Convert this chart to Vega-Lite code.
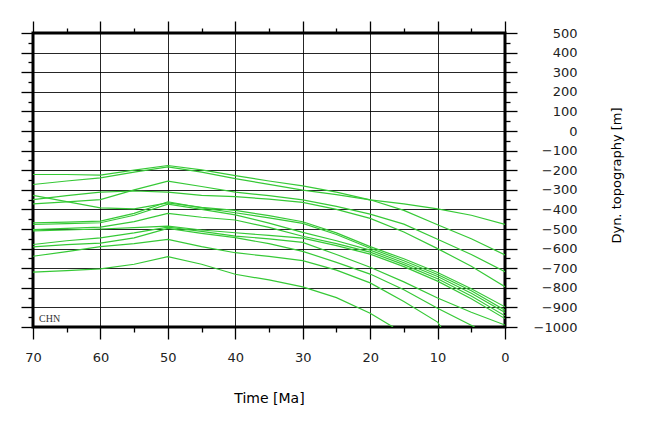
{
  "$schema": "https://vega.github.io/schema/vega-lite/v6.json",
  "width": 472,
  "height": 294,
  "autosize": {"type": "none"},
  "padding": {"left": 33, "top": 33, "right": 140, "bottom": 103},
  "background": "white",
  "config": {
    "view": {"stroke": "#000", "strokeWidth": 3},
    "axis": {"domain": false, "tickColor": "#000", "tickWidth": 1.3, "labelFont": "DejaVu Sans", "labelFontSize": 13, "labelColor": "#222", "titleFont": "DejaVu Sans", "titleFontWeight": "normal", "titleColor": "#000", "labelOverlap": false, "labelFlush": false, "labelBound": false}
  },
  "datasets": {
    "curves": [
      {"id":"L1","t":70,"v":-222},{"id":"L1","t":65,"v":-222},{"id":"L1","t":60,"v":-225},{"id":"L1","t":55,"v":-200},{"id":"L1","t":50,"v":-176},{"id":"L1","t":45,"v":-198},{"id":"L1","t":40,"v":-228},{"id":"L1","t":35,"v":-255},{"id":"L1","t":30,"v":-280},{"id":"L1","t":25,"v":-312},{"id":"L1","t":20,"v":-351},{"id":"L1","t":15,"v":-405},{"id":"L1","t":10,"v":-478},{"id":"L1","t":5,"v":-550},{"id":"L1","t":0,"v":-632},
      {"id":"L2","t":70,"v":-273},{"id":"L2","t":65,"v":-255},{"id":"L2","t":60,"v":-239},{"id":"L2","t":55,"v":-210},{"id":"L2","t":50,"v":-183},{"id":"L2","t":45,"v":-210},{"id":"L2","t":40,"v":-243},{"id":"L2","t":35,"v":-272},{"id":"L2","t":30,"v":-302},{"id":"L2","t":25,"v":-325},{"id":"L2","t":20,"v":-351},{"id":"L2","t":15,"v":-372},{"id":"L2","t":10,"v":-397},{"id":"L2","t":5,"v":-430},{"id":"L2","t":0,"v":-476},
      {"id":"L3","t":70,"v":-372},{"id":"L3","t":65,"v":-362},{"id":"L3","t":60,"v":-350},{"id":"L3","t":55,"v":-300},{"id":"L3","t":50,"v":-256},{"id":"L3","t":45,"v":-283},{"id":"L3","t":40,"v":-312},{"id":"L3","t":35,"v":-330},{"id":"L3","t":30,"v":-351},{"id":"L3","t":25,"v":-385},{"id":"L3","t":20,"v":-424},{"id":"L3","t":15,"v":-475},{"id":"L3","t":10,"v":-552},{"id":"L3","t":5,"v":-630},{"id":"L3","t":0,"v":-718},
      {"id":"L4","t":70,"v":-350},{"id":"L4","t":65,"v":-330},{"id":"L4","t":60,"v":-312},{"id":"L4","t":55,"v":-306},{"id":"L4","t":50,"v":-312},{"id":"L4","t":45,"v":-328},{"id":"L4","t":40,"v":-335},{"id":"L4","t":35,"v":-348},{"id":"L4","t":30,"v":-364},{"id":"L4","t":25,"v":-400},{"id":"L4","t":20,"v":-446},{"id":"L4","t":15,"v":-515},{"id":"L4","t":10,"v":-600},{"id":"L4","t":5,"v":-690},{"id":"L4","t":0,"v":-795},
      {"id":"C1","t":70,"v":-328},{"id":"C1","t":65,"v":-360},{"id":"C1","t":60,"v":-392},{"id":"C1","t":55,"v":-397},{"id":"C1","t":50,"v":-367},{"id":"C1","t":45,"v":-390},{"id":"C1","t":40,"v":-405},{"id":"C1","t":35,"v":-432},{"id":"C1","t":30,"v":-463},{"id":"C1","t":25,"v":-520},{"id":"C1","t":20,"v":-590},{"id":"C1","t":15,"v":-652},{"id":"C1","t":10,"v":-722},{"id":"C1","t":5,"v":-805},{"id":"C1","t":0,"v":-897},
      {"id":"C2","t":70,"v":-469},{"id":"C2","t":65,"v":-465},{"id":"C2","t":60,"v":-460},{"id":"C2","t":55,"v":-420},{"id":"C2","t":50,"v":-361},{"id":"C2","t":45,"v":-392},{"id":"C2","t":40,"v":-417},{"id":"C2","t":35,"v":-443},{"id":"C2","t":30,"v":-471},{"id":"C2","t":25,"v":-528},{"id":"C2","t":20,"v":-598},{"id":"C2","t":15,"v":-662},{"id":"C2","t":10,"v":-732},{"id":"C2","t":5,"v":-815},{"id":"C2","t":0,"v":-914},
      {"id":"C3","t":70,"v":-477},{"id":"C3","t":65,"v":-473},{"id":"C3","t":60,"v":-468},{"id":"C3","t":55,"v":-430},{"id":"C3","t":50,"v":-373},{"id":"C3","t":45,"v":-400},{"id":"C3","t":40,"v":-428},{"id":"C3","t":35,"v":-470},{"id":"C3","t":30,"v":-517},{"id":"C3","t":25,"v":-560},{"id":"C3","t":20,"v":-608},{"id":"C3","t":15,"v":-672},{"id":"C3","t":10,"v":-742},{"id":"C3","t":5,"v":-828},{"id":"C3","t":0,"v":-926},
      {"id":"C4","t":70,"v":-503},{"id":"C4","t":65,"v":-497},{"id":"C4","t":60,"v":-490},{"id":"C4","t":55,"v":-462},{"id":"C4","t":50,"v":-420},{"id":"C4","t":45,"v":-440},{"id":"C4","t":40,"v":-454},{"id":"C4","t":35,"v":-492},{"id":"C4","t":30,"v":-537},{"id":"C4","t":25,"v":-575},{"id":"C4","t":20,"v":-618},{"id":"C4","t":15,"v":-682},{"id":"C4","t":10,"v":-754},{"id":"C4","t":5,"v":-842},{"id":"C4","t":0,"v":-943},
      {"id":"C5","t":70,"v":-510},{"id":"C5","t":65,"v":-505},{"id":"C5","t":60,"v":-500},{"id":"C5","t":55,"v":-493},{"id":"C5","t":50,"v":-485},{"id":"C5","t":45,"v":-505},{"id":"C5","t":40,"v":-519},{"id":"C5","t":35,"v":-533},{"id":"C5","t":30,"v":-547},{"id":"C5","t":25,"v":-585},{"id":"C5","t":20,"v":-628},{"id":"C5","t":15,"v":-692},{"id":"C5","t":10,"v":-766},{"id":"C5","t":5,"v":-856},{"id":"C5","t":0,"v":-957},
      {"id":"B4","t":70,"v":-579},{"id":"B4","t":65,"v":-560},{"id":"B4","t":60,"v":-545},{"id":"B4","t":55,"v":-520},{"id":"B4","t":50,"v":-490},{"id":"B4","t":45,"v":-512},{"id":"B4","t":40,"v":-536},{"id":"B4","t":35,"v":-550},{"id":"B4","t":30,"v":-568},{"id":"B4","t":25,"v":-630},{"id":"B4","t":20,"v":-695},{"id":"B4","t":15,"v":-770},{"id":"B4","t":10,"v":-852},{"id":"B4","t":5,"v":-925},{"id":"B4","t":0,"v":-990},
      {"id":"B3","t":70,"v":-591},{"id":"B3","t":65,"v":-580},{"id":"B3","t":60,"v":-572},{"id":"B3","t":55,"v":-545},{"id":"B3","t":50,"v":-497},{"id":"B3","t":45,"v":-522},{"id":"B3","t":40,"v":-544},{"id":"B3","t":35,"v":-575},{"id":"B3","t":30,"v":-614},{"id":"B3","t":25,"v":-670},{"id":"B3","t":20,"v":-730},{"id":"B3","t":15,"v":-810},{"id":"B3","t":10,"v":-904},{"id":"B3","t":4.5,"v":-1000},
      {"id":"B2","t":70,"v":-639},{"id":"B2","t":65,"v":-615},{"id":"B2","t":60,"v":-590},{"id":"B2","t":55,"v":-575},{"id":"B2","t":50,"v":-553},{"id":"B2","t":45,"v":-590},{"id":"B2","t":40,"v":-621},{"id":"B2","t":35,"v":-640},{"id":"B2","t":30,"v":-661},{"id":"B2","t":25,"v":-710},{"id":"B2","t":20,"v":-775},{"id":"B2","t":15,"v":-870},{"id":"B2","t":10,"v":-975},{"id":"B2","t":9.5,"v":-1000},
      {"id":"B1","t":70,"v":-720},{"id":"B1","t":65,"v":-712},{"id":"B1","t":60,"v":-703},{"id":"B1","t":55,"v":-680},{"id":"B1","t":50,"v":-641},{"id":"B1","t":45,"v":-680},{"id":"B1","t":40,"v":-731},{"id":"B1","t":35,"v":-760},{"id":"B1","t":30,"v":-795},{"id":"B1","t":25,"v":-850},{"id":"B1","t":20,"v":-930},{"id":"B1","t":16.6,"v":-1000}
    ],
    "label": [{"t": 69.1, "v": -958, "text": "CHN"}]
  },
  "layer": [
    {
      "data": {"name": "curves"},
      "mark": {"type": "line", "color": "#36c936", "strokeWidth": 1.2, "clip": true},
      "encoding": {
        "x": {"field": "t", "type": "quantitative", "scale": {"domain": [0, 70], "reverse": true, "nice": false, "zero": false},
          "axis": {"orient": "bottom", "title": "Time [Ma]", "values": [0,5,10,15,20,25,30,35,40,45,50,55,60,65,70], "format": "d",
            "labelExpr": "datum.value % 10 === 0 ? datum.label : ''",
            "tickSize": {"condition": {"test": "datum.value % 10 === 0", "value": 12}, "value": 5},
            "grid": true, "gridColor": "#000", "gridWidth": 1, "gridOpacity": {"condition": {"test": "datum.value % 10 === 0", "value": 0.85}, "value": 0},
            "labelPadding": 12, "labelFontSize": 13, "titleFontSize": 14, "titleY": 71, "titleBaseline": "middle"}},
        "y": {"field": "v", "type": "quantitative", "scale": {"domain": [-1000, 500], "nice": false, "zero": false},
          "axis": {"orient": "right", "title": "Dyn. topography [m]", "values": [-1000,-950,-900,-850,-800,-750,-700,-650,-600,-550,-500,-450,-400,-350,-300,-250,-200,-150,-100,-50,0,50,100,150,200,250,300,350,400,450,500], "format": "d",
            "labelExpr": "datum.value % 100 === 0 ? datum.label : ''",
            "tickSize": {"condition": {"test": "datum.value % 100 === 0", "value": 12}, "value": 5},
            "grid": true, "gridColor": "#000", "gridWidth": 1, "gridOpacity": {"condition": {"test": "datum.value % 100 === 0", "value": 0.85}, "value": 0},
            "labelAlign": "right", "labelPadding": 60, "labelFontSize": 13, "titleFontSize": 13,
            "titleAngle": -90, "titleX": 111, "titleY": 142, "titleAlign": "center", "titleBaseline": "middle"}},
        "detail": {"field": "id", "type": "nominal"}
      }
    },
    {
      "data": {"name": "label"},
      "mark": {"type": "text", "font": "Liberation Serif", "fontSize": 10, "align": "left", "baseline": "middle", "color": "#333"},
      "encoding": {
        "x": {"field": "t", "type": "quantitative", "scale": {"domain": [0, 70], "reverse": true, "nice": false, "zero": false},
          "axis": {"orient": "top", "title": null, "values": [0,5,10,15,20,25,30,35,40,45,50,55,60,65,70], "labels": false, "grid": false,
            "tickSize": {"condition": {"test": "datum.value % 10 === 0", "value": 12}, "value": 5}}},
        "y": {"field": "v", "type": "quantitative", "scale": {"domain": [-1000, 500], "nice": false, "zero": false},
          "axis": {"orient": "left", "title": null, "values": [-1000,-950,-900,-850,-800,-750,-700,-650,-600,-550,-500,-450,-400,-350,-300,-250,-200,-150,-100,-50,0,50,100,150,200,250,300,350,400,450,500], "labels": false, "grid": false,
            "tickSize": {"condition": {"test": "datum.value % 100 === 0", "value": 12}, "value": 5}}},
        "text": {"field": "text", "type": "nominal"}
      }
    }
  ],
  "resolve": {"axis": {"x": "independent", "y": "independent"}}
}
